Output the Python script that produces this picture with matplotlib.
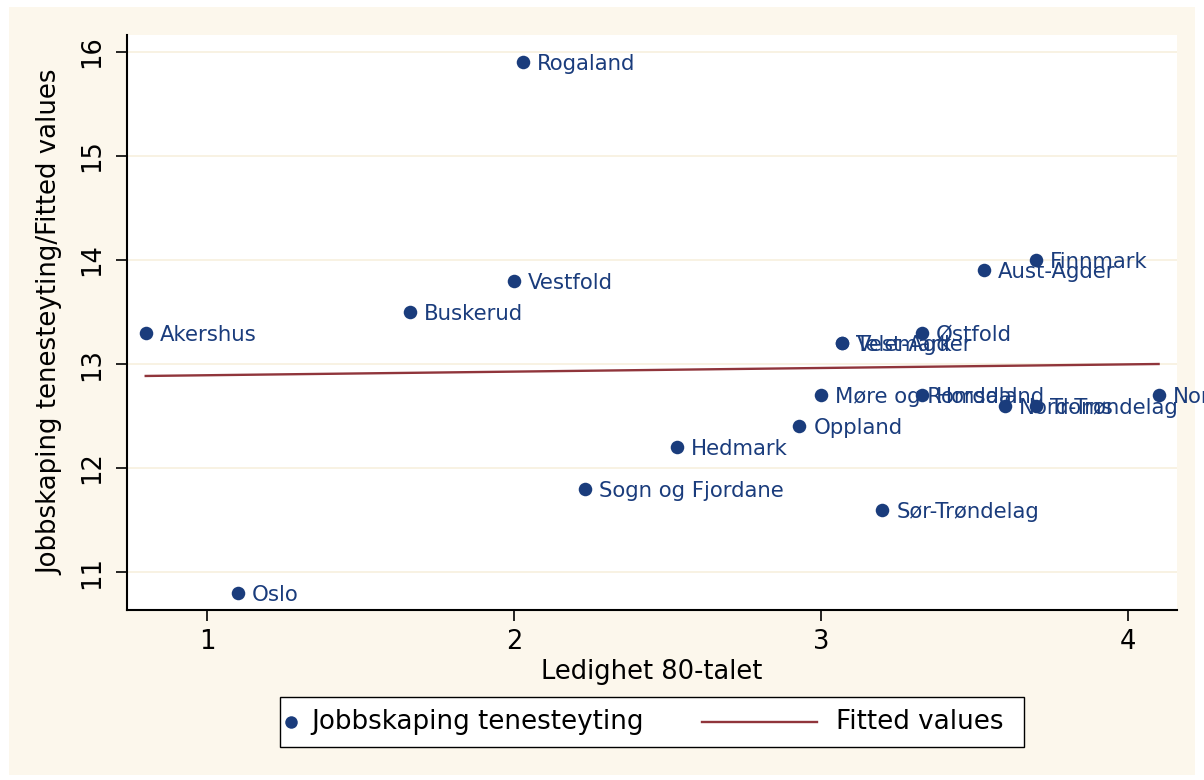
import matplotlib.pyplot as plt
from matplotlib.patches import Rectangle
from matplotlib.lines import Line2D

# Data
counties = ['Akershus', 'Oslo', 'Buskerud', 'Vestfold', 'Rogaland', 'Sogn og Fjordane',
            'Hedmark', 'Oppland', 'Møre og Romsdal', 'Telemark', 'Vest-Agder', 'Østfold',
            'Hordaland', 'Sør-Trøndelag', 'Nord-Trøndelag', 'Troms', 'Finnmark',
            'Aust-Agder', 'Nordland']
ledighet = [0.80, 1.10, 1.66, 2.00, 2.03, 2.23, 2.53, 2.93, 3.00, 3.07, 3.07, 3.33,
            3.33, 3.20, 3.60, 3.70, 3.70, 3.53, 4.10]
jobbskaping = [13.3, 10.8, 13.5, 13.8, 15.9, 11.8, 12.2, 12.4, 12.7, 13.2, 13.2, 13.3,
               12.7, 11.6, 12.6, 12.6, 14.0, 13.9, 12.7]
fit_x = [0.80, 4.10]
fit_y = [12.885, 13.0]

W, H = 1204, 780
navy = '#1a3c7c'
maroon = '#90353b'
cream = '#fcf7ec'

plt.rcParams['font.family'] = ['DejaVu Sans']
fig = plt.figure(figsize=(W / 100, H / 100), dpi=100, facecolor='white')

def fx(px):
    return px / W

def fy(py):
    return 1 - py / H

# cream graph region
fig.patches.append(Rectangle((fx(9), fy(775)), (1195 - 9) / W, (775 - 7) / H,
                             transform=fig.transFigure, facecolor=cream,
                             edgecolor='none', zorder=-5))

ax = fig.add_axes([fx(127), fy(610), (1177 - 127) / W, (610 - 35) / H])
ax.set_zorder(1)
ax.set_facecolor('white')

ax.plot(fit_x, fit_y, color=maroon, lw=1.7, zorder=2)
ax.scatter(ledighet, jobbskaping, s=95, color=navy, zorder=3, linewidths=0)
for name, x, y in zip(counties, ledighet, jobbskaping):
    ax.annotate(name, (x, y), xytext=(10, -1.5), textcoords='offset points',
                va='center', ha='left', fontsize=15.3, color=navy,
                annotation_clip=False, zorder=4)

ax.set_xlim(0.739, 4.160)
ax.set_ylim(10.635, 16.163)
ax.set_xticks([1, 2, 3, 4])
ax.set_yticks([11, 12, 13, 14, 15, 16])
ax.grid(axis='y', color='#f7f0de', lw=1.2, zorder=1)
ax.set_axisbelow(True)

for s in ['top', 'right']:
    ax.spines[s].set_visible(False)
for s in ['left', 'bottom']:
    ax.spines[s].set_linewidth(1.5)

ax.tick_params(axis='both', length=8, width=1.2, labelsize=18.5, direction='out')
ax.tick_params(axis='x', pad=6)
ax.tick_params(axis='y', pad=8)
for lab in ax.get_yticklabels():
    lab.set_rotation(90)
    lab.set_va('center')

ax.set_xlabel('Ledighet 80-talet', fontsize=18.5)
ax.xaxis.set_label_coords(0.5, -0.086)
ax.set_ylabel('Jobbskaping tenesteyting/Fitted values', fontsize=18.7)
ax.yaxis.set_label_coords(-0.061, 0.5)

# legend box (Stata style)
fig.patches.append(Rectangle((fx(280), fy(747)), (1024 - 280) / W, 50 / H,
                             transform=fig.transFigure, facecolor='white',
                             edgecolor='black', lw=1.0, zorder=1))
fig.add_artist(Line2D([fx(291)], [fy(722)], marker='o', markersize=9, color=navy,
                      markeredgewidth=0, linestyle='none', transform=fig.transFigure))
fig.text(fx(311), fy(722), 'Jobbskaping tenesteyting', fontsize=18.8, va='center')
fig.add_artist(Line2D([fx(702), fx(817)], [fy(722), fy(722)], color=maroon, lw=1.7,
                      transform=fig.transFigure))
fig.text(fx(836), fy(722), 'Fitted values', fontsize=18.8, va='center')

fig.savefig('out.png', dpi=100, facecolor='white')
